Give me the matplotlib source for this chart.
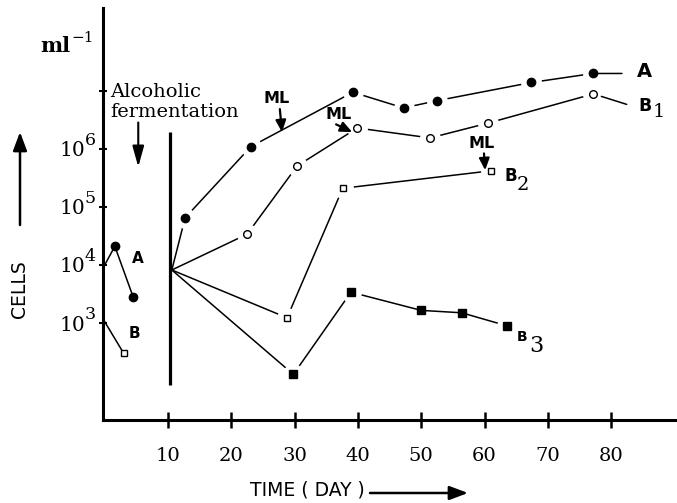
import numpy as np
import matplotlib.pyplot as plt
from matplotlib.ticker import NullLocator

plt.rcParams['font.family'] = 'DejaVu Serif'

# cells per ml (log axis), time in days
pre_a_day = [0.0, 1.6, 4.5]
pre_a_cells = [1.0e4, 2.1e4, 2.8e3]
pre_b_day = [0.0, 3.0]
pre_b_cells = [1.05e3, 3.0e2]

start_day = 10.6
start_cells = 8.2e3

a_day = [start_day, 12.7, 23.1, 39.2, 47.2, 52.5, 67.4, 77.1]
a_cells = [start_cells, 6.5e4, 1.1e6, 9.5e6, 5.1e6, 6.8e6, 1.4e7, 2.0e7]
b1_day = [start_day, 22.5, 30.4, 39.9, 51.4, 60.6, 77.2]
b1_cells = [start_cells, 3.4e4, 5.1e5, 2.3e6, 1.55e6, 2.8e6, 8.9e6]
b2_day = [start_day, 28.8, 37.6, 61.0]
b2_cells = [start_cells, 1.23e3, 2.1e5, 4.2e5]
b3_day = [start_day, 29.8, 38.9, 50.0, 56.4, 63.6]
b3_cells = [start_cells, 1.3e2, 3.4e3, 1.65e3, 1.5e3, 8.9e2]

ferment_day = 10.3
ferment_span = (85, 1.95e6)

# malolactic arrows: (day, cells) of the arrow tip, text offset in points, arrow start on text box
ml_tips = [(28.0, 1.95e6), (39.1, 1.95e6), (60.1, 4.3e5)]
ml_offsets = [(-3.6, 24), (-9.5, 13), (-2.9, 19.5)]
ml_relpos = [(0.6, 0.0), (0.05, 0.1), (0.6, 0.0)]

x_ticks = [10, 20, 30, 40, 50, 60, 70, 80]
y_decades = [3, 4, 5, 6]

fig = plt.figure(figsize=(6.77, 5.03), dpi=100)
ax = fig.add_axes([103 / 677, 83 / 503, 574 / 677, 412 / 503])
ax.set_yscale('log')
ax.set_xlim(-0.27, 90.4)
ax.set_ylim(10 ** 1.328, 10 ** 8.43)

for s in ['top', 'right']:
    ax.spines[s].set_visible(False)
for s in ['left', 'bottom']:
    ax.spines[s].set_linewidth(2.2)

ax.set_xticks(x_ticks)
ax.set_xticklabels([str(t) for t in x_ticks], fontsize=14)
ax.tick_params(axis='x', direction='inout', length=11.5, width=1.8, pad=14)
ax.set_yticks([10.0 ** k for k in y_decades + [7]])
ax.set_yticklabels([])
ax.yaxis.set_minor_locator(NullLocator())
ax.tick_params(axis='y', direction='inout', length=6, width=1.5)

for k in y_decades:
    ax.annotate('10', xy=(0, 10.0 ** k), xycoords=('axes fraction', 'data'),
                xytext=(-13, -5.4), textcoords='offset points',
                ha='right', va='baseline', fontsize=14.5)
    ax.annotate(str(k), xy=(0, 10.0 ** k), xycoords=('axes fraction', 'data'),
                xytext=(-13, 3.1), textcoords='offset points',
                ha='left', va='baseline', fontsize=12.5)

# end of alcoholic fermentation
ax.vlines(ferment_day, *ferment_span, color='black', lw=2.3, zorder=2.6)

line_kw = dict(color='black', lw=1.1, zorder=2)
halo_kw = dict(ls='none', marker='o', ms=14, mfc='white', mec='white', zorder=2.2)

# before fermentation
ax.plot(pre_a_day, pre_a_cells, marker='o', ms=6, mfc='black', mec='black',
        markevery=[1, 2], **line_kw)
ax.plot(pre_b_day, pre_b_cells, marker='s', ms=5, mfc='white', mec='black', mew=1,
        markevery=[1], **line_kw)

series = [
    (a_day, a_cells, dict(marker='o', ms=6, mfc='black', mec='black'), list(range(1, 8))),
    (b1_day, b1_cells, dict(marker='o', ms=5.5, mfc='white', mec='black', mew=1), list(range(1, 7))),
    (b2_day, b2_cells, dict(marker='s', ms=5, mfc='white', mec='black', mew=1), [1, 2, 3]),
    (b3_day, b3_cells, dict(marker='s', ms=5.5, mfc='black', mec='black'), [1, 2, 5]),
]
for day, cells, mk, halo_idx in series:
    ax.plot(day, cells, **line_kw)
    ax.plot(day, cells, markevery=halo_idx, **halo_kw)
    ax.plot(day, cells, ls='none', zorder=3, markevery=list(range(1, len(day))), **mk)

lab_kw = dict(textcoords='offset points', ha='center', va='center',
              family='DejaVu Sans', fontweight='bold')
sub_kw = dict(textcoords='offset points', ha='center', va='center', family='DejaVu Serif')
tail = dict(arrowstyle='-', lw=1.1, color='black', relpos=(0, 0.4))

ax.annotate('A', xy=(a_day[-1], a_cells[-1]), xytext=(37.4, 1.4), fontsize=14,
            arrowprops=dict(shrinkA=9, shrinkB=4, **tail), **lab_kw)
ax.annotate('B', xy=(b1_day[-1], b1_cells[-1]), xytext=(37.4, -9.0), fontsize=12.5,
            arrowprops=dict(shrinkA=7, shrinkB=6, **tail), **lab_kw)
ax.annotate('1', xy=(b1_day[-1], b1_cells[-1]), xytext=(46.8, -13.0), fontsize=14, **sub_kw)
ax.annotate('B', xy=(b2_day[-1], b2_cells[-1]), xytext=(14.4, -3.6), fontsize=12, **lab_kw)
ax.annotate('2', xy=(b2_day[-1], b2_cells[-1]), xytext=(23.0, -10.1), fontsize=14, **sub_kw)
ax.annotate('B', xy=(b3_day[-1], b3_cells[-1]), xytext=(10.8, -7.9), fontsize=10, **lab_kw)
ax.annotate('3', xy=(b3_day[-1], b3_cells[-1]), xytext=(20.9, -14.4), fontsize=16, **sub_kw)
ax.annotate('A', xy=(pre_a_day[1], pre_a_cells[1]), xytext=(16.6, -8.6), fontsize=11, **lab_kw)
ax.annotate('B', xy=(pre_b_day[1], pre_b_cells[1]), xytext=(7.9, 14.4), fontsize=11, **lab_kw)

for (d, c), off, rp in zip(ml_tips, ml_offsets, ml_relpos):
    ax.annotate('ML', xy=(d, c), xytext=off, textcoords='offset points',
                ha='center', va='center', fontsize=11.5, family='DejaVu Sans',
                fontweight='bold', zorder=5,
                arrowprops=dict(arrowstyle='-|>,head_length=0.5,head_width=0.22', lw=1.6,
                                color='black', mutation_scale=14, shrinkA=0, shrinkB=0,
                                relpos=rp))

ax.text(7 / 574, 1 - (83 - 8) / 412, 'Alcoholic\nfermentation',
        transform=ax.transAxes, ha='left', va='top', fontsize=14, linespacing=1.15)
ax.annotate('', xy=(5.3, 4.9e5), xytext=(0, 32), textcoords='offset points',
            arrowprops=dict(arrowstyle='-|>,head_length=0.9,head_width=0.25', lw=1.5,
                            color='black', mutation_scale=14, shrinkA=0, shrinkB=0))

fig.text(40 / 677, 1 - 52 / 503, 'ml', ha='left', va='baseline', fontsize=15,
         fontweight='bold')
fig.text(71 / 677, 1 - 42 / 503, '\u22121', ha='left', va='baseline', fontsize=11)

fig.text(19 / 677, 1 - 289 / 503, 'CELLS', rotation=90, ha='center', va='center',
         family='DejaVu Sans', fontsize=13.5)
fig_arrow = dict(arrowstyle='-|>,head_length=0.8,head_width=0.3', lw=1.8, color='black',
                 mutation_scale=14, shrinkA=0, shrinkB=0)
ax.annotate('', xy=(20, 503 - 132), xytext=(20, 503 - 225), xycoords='figure pixels',
            textcoords='figure pixels', arrowprops=fig_arrow, annotation_clip=False)

fig.text(307 / 677, 1 - 490 / 503, 'TIME ( DAY )', ha='center', va='center',
         family='DejaVu Sans', fontsize=13.5)
ax.annotate('', xy=(468, 503 - 493), xytext=(370, 503 - 493), xycoords='figure pixels',
            textcoords='figure pixels', arrowprops=fig_arrow, annotation_clip=False)

fig.savefig('out.png', dpi=100)
